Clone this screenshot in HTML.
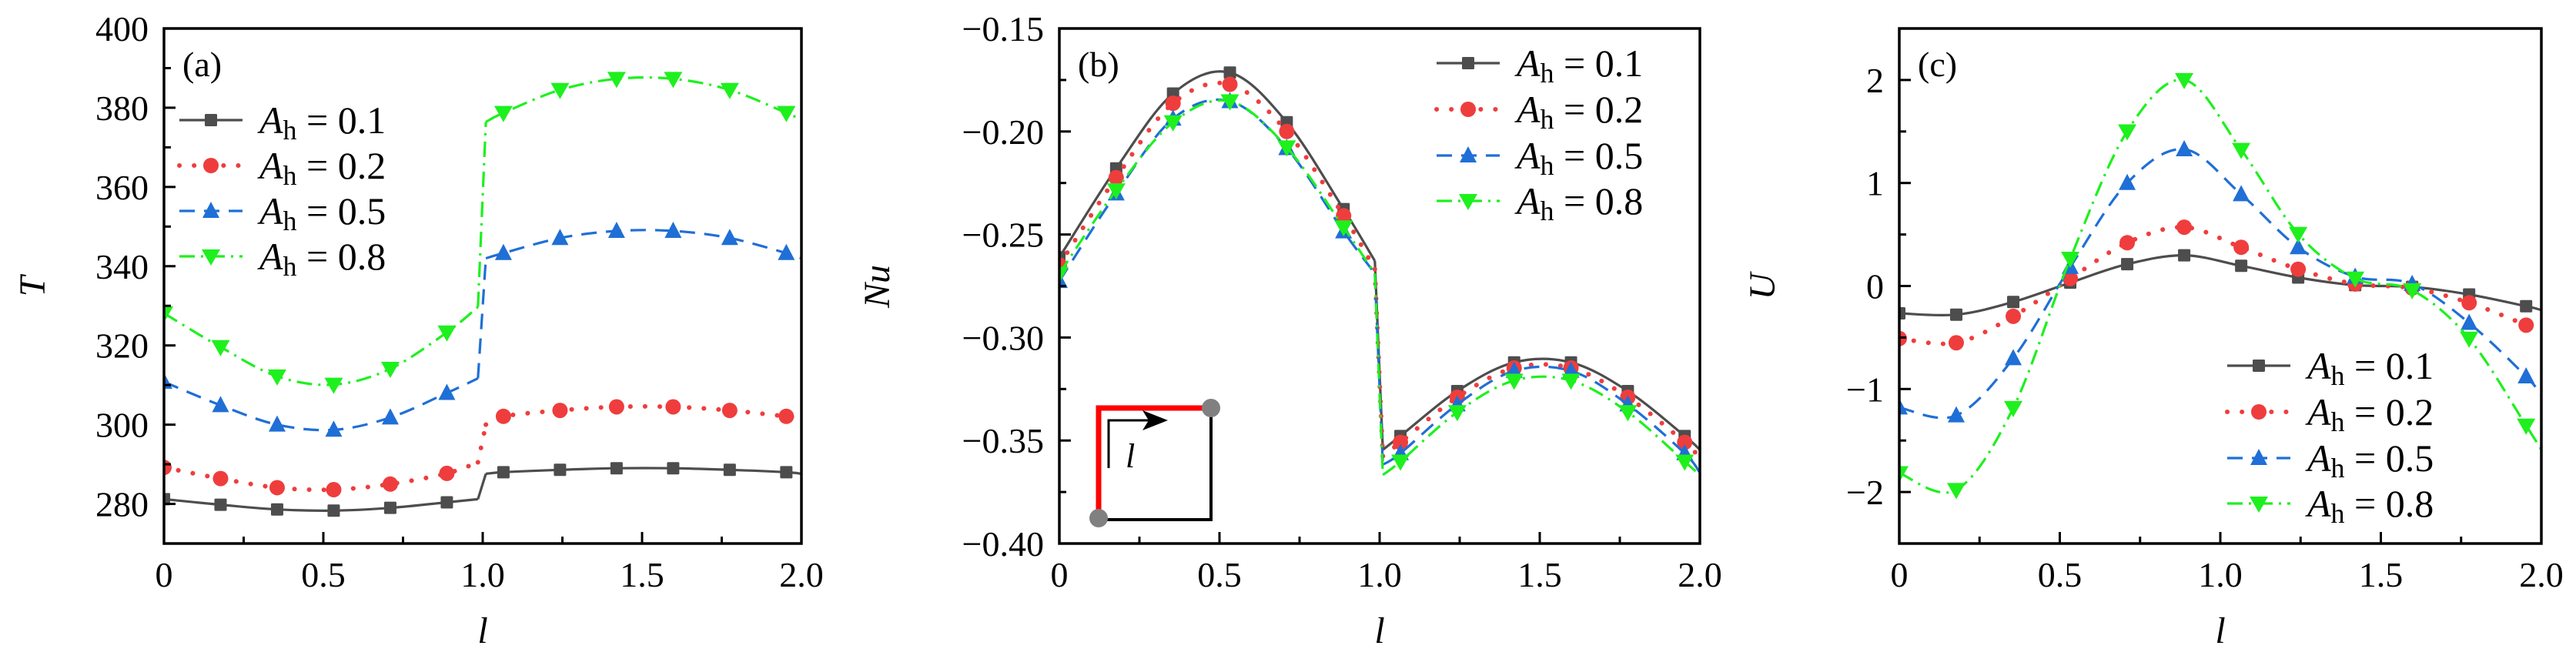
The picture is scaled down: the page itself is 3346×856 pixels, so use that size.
<!DOCTYPE html>
<html><head><meta charset="utf-8">
<style>
html,body{margin:0;padding:0;background:#fff;}
svg{display:block;font-family:"Liberation Serif","DejaVu Serif",serif;}
svg text{font-family:"Liberation Serif","DejaVu Serif",serif;fill:#000;}
</style></head>
<body>
<svg id="fig" width="3346" height="856" viewBox="0 0 3346 856" font-family="Liberation Serif, DejaVu Serif, serif" xmlns="http://www.w3.org/2000/svg">
<g id="inset">
  <polyline points="1573,530 1573,675 1427,675" fill="none" stroke="#000" stroke-width="4"/>
  <polyline points="1427,673 1427,530 1573,530" fill="none" stroke="#f00" stroke-width="7"/>
  <circle cx="1427" cy="673" r="12" fill="#808080"/>
  <circle cx="1573" cy="530" r="12" fill="#808080"/>
  <polyline points="1440,608 1440,546 1495,546" fill="none" stroke="#000" stroke-width="3"/>
  <polygon points="1517,546 1484,533 1492,546 1484,559" fill="#000"/>
  <text x="1462" y="607" font-size="44" font-style="italic">l</text>
</g>
</svg>
<script>
// shared x positions of markers
const markerL = [0, 0.1775, 0.355, 0.5325, 0.71, 0.8875, 1.065, 1.2425, 1.42, 1.5975, 1.775, 1.9525];
const seriesNames = ["A_h = 0.1", "A_h = 0.2", "A_h = 0.5", "A_h = 0.8"];
// Panel (a): T
const tA01 = [281.2, 279.8, 278.6, 278.3, 279.0, 280.4, 288.0, 288.6, 289.0, 289.0, 288.6, 288.0];
const tA02 = [289.2, 286.4, 284.1, 283.6, 285.0, 287.7, 302.1, 303.6, 304.5, 304.5, 303.6, 302.1];
const tA05 = [310.8, 304.9, 300.0, 298.7, 301.8, 308.0, 343.3, 347.1, 348.9, 348.9, 347.1, 343.3];
const tA08 = [328.1, 319.6, 312.2, 310.1, 314.1, 323.3, 378.7, 384.5, 387.3, 387.3, 384.5, 378.7];
const tPreJump = [281.2, 290.5, 311.7, 329.7];
const tPostJump = [287.6, 300.0, 342.0, 376.4];
const tEnd = [287.6, 301.8, 342.0, 376.9];
const tTicks = [280, 300, 320, 340, 360, 380, 400];
// Panel (b): Nu
const nuA01 = [-0.2611, -0.2179, -0.1816, -0.1714, -0.1955, -0.2377, -0.3478, -0.3260, -0.3121, -0.3121, -0.3260, -0.3478];
const nuA02 = [-0.2648, -0.2224, -0.1863, -0.1771, -0.2000, -0.2409, -0.3509, -0.3290, -0.3148, -0.3148, -0.3290, -0.3509];
const nuA05 = [-0.2726, -0.2301, -0.1938, -0.1853, -0.2081, -0.2485, -0.3562, -0.3325, -0.3162, -0.3162, -0.3325, -0.3562];
const nuA08 = [-0.2690, -0.2285, -0.1955, -0.1853, -0.2077, -0.2465, -0.3602, -0.3362, -0.3209, -0.3209, -0.3362, -0.3602];
const nuPreJump = [-0.2628, -0.2668, -0.2689, -0.2689];
const nuPostJump = [-0.3545, -0.3576, -0.3617, -0.3667];
const nuEnd = [-0.3545, -0.3586, -0.3657, -0.3667];
const nuTicks = [-0.40, -0.35, -0.30, -0.25, -0.20, -0.15];
const nuTickLabels = ["−0.40", "−0.35", "−0.30", "−0.25", "−0.20", "−0.15"];
// Panel (c): U
const uA01 = [-0.265, -0.278, -0.155, 0.033, 0.212, 0.298, 0.196, 0.082, 0.008, -0.008, -0.082, -0.196];
const uA02 = [-0.51, -0.551, -0.294, 0.073, 0.42, 0.571, 0.376, 0.163, 0.02, -0.02, -0.163, -0.38];
const uA05 = [-1.18, -1.257, -0.702, 0.184, 1.0, 1.327, 0.89, 0.376, 0.09, 0.02, -0.359, -0.878];
const uA08 = [-1.816, -1.98, -1.184, 0.265, 1.502, 2.0, 1.322, 0.506, 0.073, -0.04, -0.51, -1.355];
const uEnd = [-0.233, -0.449, -1.061, -1.59];
const uTicks = [-2, -1, 0, 1, 2];
const uTickLabels = ["−2", "−1", "0", "1", "2"];
const xTicks = [0, 0.5, 1.0, 1.5, 2.0];
const xTickLabels = ["0", "0.5", "1.0", "1.5", "2.0"];

const NS = "http://www.w3.org/2000/svg";
const svg = document.getElementById('fig');
const inset = document.getElementById('inset');
const styles = [
  {c:"#4d4d4d", dash:"", m:"square"},
  {c:"#ef3d3d", dash:"0.1 19", cap:"round", m:"circle"},
  {c:"#1f6fd6", dash:"20 12", m:"up"},
  {c:"#1ef01e", dash:"20 8 3 8", m:"down"}
];
function mk(tag, parent){ const e=document.createElementNS(NS,tag); parent.appendChild(e); return e; }
function smooth(pts){
  if(pts.length<2) return "";
  let d="M"+pts[0][0].toFixed(1)+","+pts[0][1].toFixed(1);
  for(let i=0;i<pts.length-1;i++){
    const p0=pts[Math.max(0,i-1)],p1=pts[i],p2=pts[i+1],p3=pts[Math.min(pts.length-1,i+2)];
    const c1=[p1[0]+(p2[0]-p0[0])/6,p1[1]+(p2[1]-p0[1])/6];
    const c2=[p2[0]-(p3[0]-p1[0])/6,p2[1]-(p3[1]-p1[1])/6];
    d+=" C"+c1[0].toFixed(1)+","+c1[1].toFixed(1)+" "+c2[0].toFixed(1)+","+c2[1].toFixed(1)+" "+p2[0].toFixed(1)+","+p2[1].toFixed(1);
  }
  return d;
}
function marker(g,type,x,y,c){
  let e;
  if(type==="square"){ e=mk('rect',g); e.setAttribute('x',x-8); e.setAttribute('y',y-8); e.setAttribute('width',16); e.setAttribute('height',16); e.setAttribute('rx',1.5); }
  else if(type==="circle"){ e=mk('circle',g); e.setAttribute('cx',x); e.setAttribute('cy',y); e.setAttribute('r',10); }
  else if(type==="up"){ e=mk('polygon',g); e.setAttribute('points',`${x},${y-12} ${x-11},${y+9} ${x+11},${y+9}`); }
  else { e=mk('polygon',g); e.setAttribute('points',`${x},${y+12} ${x-12},${y-9} ${x+12},${y-9}`); }
  e.setAttribute('fill',c);
  return e;
}
function panel(o){
  const g=mk('g',svg);
  
  
  const X=v=>o.x0+(v-0)/(2-0)*(o.x1-o.x0);
  const Y=v=>o.y1-(v-o.ymin)/(o.ymax-o.ymin)*(o.y1-o.y0);
  const clip=mk('clipPath',g); clip.setAttribute('id','clip-'+o.name);
  const cr=mk('rect',clip); cr.setAttribute('x',o.x0); cr.setAttribute('y',o.y0); cr.setAttribute('width',o.x1-o.x0); cr.setAttribute('height',o.y1-o.y0);
  const sg=mk('g',g); sg.setAttribute('clip-path','url(#clip-'+o.name+')');
  
  
  o.series.forEach((vals,si)=>{
    const st=styles[si];
    const segs=o.segFn(vals,si);
    segs.forEach(seg=>{
      const p=mk('path',sg);
      
      
      p.setAttribute('d',smooth(seg.map(q=>[X(q[0]),Y(q[1])])));
      p.setAttribute('fill','none'); p.setAttribute('stroke',st.c); p.setAttribute('stroke-width',3.2);
      if(st.dash) p.setAttribute('stroke-dasharray',st.dash);
      if(st.cap) { p.setAttribute('stroke-linecap','round'); p.setAttribute('stroke-width',6); }
    });
    vals.forEach((v,i)=>{
      const m=marker(sg,st.m,X(markerL[i]),Y(v),st.c);
      
      
    });
  });
  const fr=mk('rect',g); fr.setAttribute('x',o.x0); fr.setAttribute('y',o.y0); fr.setAttribute('width',o.x1-o.x0); fr.setAttribute('height',o.y1-o.y0);
  fr.setAttribute('fill','none'); fr.setAttribute('stroke','#000'); fr.setAttribute('stroke-width',3.5);
  
  
  for(let k=0;k<=8;k++){
    const v=k*0.25, x=X(v), len=(k%2===0)?15:9;
    const t=mk('line',g); t.setAttribute('x1',x); t.setAttribute('x2',x); t.setAttribute('y1',o.y1); t.setAttribute('y2',o.y1-len); t.setAttribute('stroke','#000'); t.setAttribute('stroke-width',3);
    
    
  }
  xTicks.forEach((v,i)=>{
    const t=mk('text',g); t.setAttribute('x',X(v)); t.setAttribute('y',762); t.setAttribute('font-size',46); t.setAttribute('text-anchor','middle'); t.textContent=xTickLabels[i];
    
    
  });
  for(let v=o.ymin; v<=o.ymax+1e-9; v+=o.minor){
    const isMaj=Math.abs(Math.round(v/o.major)*o.major-v)<1e-6;
    const y=Y(v), len=isMaj?15:9;
    if(y>o.y1-1||y<o.y0+1) continue;
    const t=mk('line',g); t.setAttribute('x1',o.x0); t.setAttribute('x2',o.x0+len); t.setAttribute('y1',y); t.setAttribute('y2',y); t.setAttribute('stroke','#000'); t.setAttribute('stroke-width',3);
    
    
  }
  o.yTicks.forEach((v,i)=>{
    const t=mk('text',g); t.setAttribute('x',o.x0-20); t.setAttribute('y',Y(v)+16); t.setAttribute('font-size',46); t.setAttribute('text-anchor','end'); t.textContent=o.yLabels[i];
    
    
  });
  const xt=mk('text',g); xt.setAttribute('x',(o.x0+o.x1)/2); xt.setAttribute('y',835); xt.setAttribute('font-size',48); xt.setAttribute('font-style','italic'); xt.setAttribute('text-anchor','middle'); xt.textContent='l';
  
  
  const yt=mk('text',g); yt.setAttribute('transform',`translate(${o.ytx},372) rotate(-90)`); yt.setAttribute('font-size',48); yt.setAttribute('font-style','italic'); yt.setAttribute('text-anchor','middle'); yt.textContent=o.ytitle;
  
  
  const pl=mk('text',g); pl.setAttribute('x',o.x0+24); pl.setAttribute('y',99); pl.setAttribute('font-size',46); pl.textContent=o.label;
  
  
  const lg=mk('g',g);
  
  
  seriesNames.forEach((nm,si)=>{
    const st=styles[si], y=o.legY[si];
    const eg=mk('g',lg);
    
    
    const l=mk('line',eg); l.setAttribute('x1',o.legX); l.setAttribute('x2',o.legX+82); l.setAttribute('y1',y); l.setAttribute('y2',y);
    l.setAttribute('stroke',st.c); l.setAttribute('stroke-width',3.2);
    if(st.dash) l.setAttribute('stroke-dasharray',st.dash);
    if(st.cap){ l.setAttribute('stroke-linecap','round'); l.setAttribute('stroke-width',6); }
    marker(eg,st.m,o.legX+41,y,st.c);
    const t=mk('text',eg); t.setAttribute('x',o.legX+104); t.setAttribute('y',y+17); t.setAttribute('font-size',50);
    const a=mk('tspan',t); a.setAttribute('font-style','italic'); a.textContent='A';
    const h=mk('tspan',t); h.setAttribute('font-size',36); h.setAttribute('dy',8); h.textContent='h';
    const r=mk('tspan',t); r.setAttribute('dy',-8); r.textContent=' = '+['0.1','0.2','0.5','0.8'][si];
  });
}
function jumpSegs(pre,post,end){
  return (vals,si)=>{
    const s1=[], s2=[];
    vals.forEach((v,i)=>{ if(markerL[i]<1) s1.push([markerL[i],v]); else s2.push([markerL[i],v]); });
    s1.push([0.985,pre[si]]); s2.unshift([1.01,post[si]]); s2.push([2.0,end[si]]);
    return [s1,[[0.985,pre[si]],[1.01,post[si]]],s2];
  };
}
panel({name:'panel-a-temperature',x0:213,x1:1041,y0:37,y1:706,ymin:270,ymax:400,major:20,minor:10,
  yTicks:tTicks,yLabels:tTicks.map(String),ytitle:'T',ytx:58,label:'(a)',
  series:[tA01,tA02,tA05,tA08],segFn:jumpSegs(tPreJump,tPostJump,tEnd),
  legX:233,legY:[156,215,274,333]});
panel({name:'panel-b-nusselt',x0:1376,x1:2208,y0:37,y1:706,ymin:-0.40,ymax:-0.15,major:0.05,minor:0.025,
  yTicks:nuTicks,yLabels:nuTickLabels,ytitle:'Nu',ytx:1155,label:'(b)',
  series:[nuA01,nuA02,nuA05,nuA08],segFn:jumpSegs(nuPreJump,nuPostJump,nuEnd),
  legX:1866,legY:[82,142,202,261]});
panel({name:'panel-c-velocity',x0:2467,x1:3301,y0:37,y1:706,ymin:-2.5,ymax:2.5,major:1,minor:0.5,
  yTicks:uTicks,yLabels:uTickLabels,ytitle:'U',ytx:2305,label:'(c)',
  series:[uA01,uA02,uA05,uA08],
  segFn:(vals,si)=>{ const s=vals.map((v,i)=>[markerL[i],v]); s.push([2.0,uEnd[si]]); return [s]; },
  legX:2893,legY:[475,535,595,654]});
svg.appendChild(inset);
</script>
</body></html>
